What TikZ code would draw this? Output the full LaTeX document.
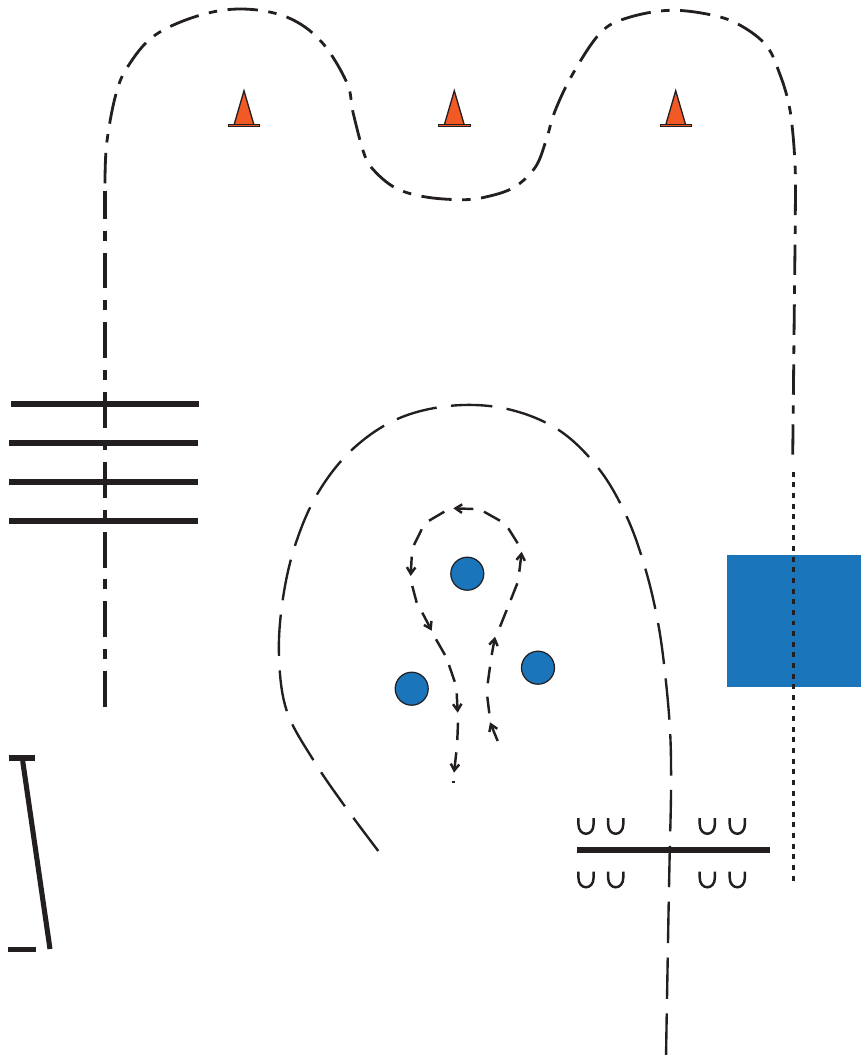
\documentclass[tikz,border=0pt]{standalone}
\usepackage{xcolor}
\usetikzlibrary{arrows.meta}
\definecolor{padblue}{RGB}{27,117,187}
\definecolor{conered}{RGB}{241,90,36}
\definecolor{inkblack}{RGB}{35,31,32}
\begin{document}
\begin{tikzpicture}[x=0.02cm,y=-0.02cm,
    trackleft/.style={draw=inkblack,line width=1.8pt,dash pattern=on 20.4pt off 6.8pt on 5.7pt off 6.8pt},
    track/.style={draw=inkblack,line width=1.6pt,dash pattern=on 17.3pt off 6pt on 4.8pt off 6pt},
    trackdots/.style={draw=inkblack,line width=1.8pt,dash pattern=on 2.8pt off 3.25pt},
    route/.style={draw=inkblack,line width=1.35pt,dash pattern=on 23.6pt off 8.2pt},
    loopline/.style={draw=inkblack,line width=1.4pt},
    flowtip/.style={loopline,-{Straight Barb[length=1.3mm,width=1.7mm]}},
    thickbar/.style={draw=inkblack,line width=3.2pt},
    cupline/.style={draw=inkblack,line width=1.4pt},
    post/.style={circle,draw=inkblack,line width=0.7pt,fill=padblue,minimum size=0.66cm,inner sep=0pt}]
    \useasboundingbox (0,0) rectangle (861,1061);
    % Pad
    \fill[padblue] (727,555) rectangle (861,687);
    % Outer track
    \draw[trackleft] (105,707) -- (105,190.7);
    \draw[track] plot[smooth,tension=0.6] coordinates {(105,183.3) (106.7,143.3) (115.7,95) (127.7,66.7) (154.3,35.7) (199,15.5) (243,9) (287.3,17.3) (321,41.3) (346.7,82.3) (353,112.3) (363.5,152) (372.7,169) (395,187.7) (424,196.7) (460,199.7) (484.3,197.3) (513.3,187.7) (535,167.7) (546,140.7) (555,111) (572.7,74) (600,33.3) (626,18.3) (670,10.3) (715,15.7) (742.7,26.7) (766.7,46) (779.3,72.7) (788.3,101.7) (792.7,131.7) (795.3,172) (795.3,215) (794.4,300) (792.7,456.7)};
    \draw[trackdots] (793.5,471.7) -- (793.5,881);
    % Inner route
    \draw[route] plot[smooth,tension=0.6] coordinates {(378.3,851) (344.7,806) (313.3,760) (286.7,710.7) (279,655.7) (282.7,600) (295,545.7) (317.3,494) (351.7,450) (397.3,419) (451.7,405.7) (507.3,409) (558.7,430) (599,469) (627,517.3) (645.7,570) (658.3,624.3) (665.7,679.3) (670.3,735.7) (671,791.7) (669.7,853) (668.7,903.3) (667.7,959.3) (666.7,1015.7) (666,1057.7)};
    % Loop
    \foreach \a/\b/\c/\d in {489.3/713.3/487.3/696.7,487.7/683.3/490/666.7,500/626.7/506.7/610,510.7/600/517.3/583.3,517.7/543.3/508.3/528.3,500/520.7/484/511.7,444.3/511.7/429/520.7,421.7/529.3/414/545,412.3/586/416.7/602.7,436/639.3/445/655,449/665/454.7/681.7,458/722.7/457.3/740,453.3/780.7/453.3/782.7}{
      \draw[loopline] (\a,\b) -- (\c,\d);
    }
    \foreach \a/\b/\c/\d in {497.7/741/490/722.3,491.7/655/495/636.7,519.3/571.7/521.7/551.7,473.3/509/453.3/508.3,411.7/556.7/410.7/576,422.3/612.7/431.7/630.7,456.7/693.3/457.7/712.7,456.3/752.3/454/772.7}{
      \draw[flowtip] (\a,\b) -- (\c,\d);
    }
    % Posts
    \node[post] (post1) at (467.3,573.7) {};
    \node[post] (post2) at (411.7,688.7) {};
    \node[post] (post3) at (538,667.7) {};
    % Cones
    \foreach \x in {244,454.3,675.7}{
      \filldraw[draw=inkblack,fill=conered,line width=0.75pt,shift={(\x,0)}] (0,90.7) -- (-10,125) -- (10,125) -- cycle;
      \filldraw[draw=inkblack,fill=conered,line width=0.5pt,shift={(\x,0)}] (-15.7,124.2) rectangle (15.7,126.8);
    }
    % Bars
    \draw[thickbar] (11,404.3) -- (199,404.3);
    \draw[thickbar] (9,443.3) -- (198,443.3);
    \draw[thickbar] (9,482.3) -- (198,482.3);
    \draw[thickbar] (9,521) -- (198,521);
    \draw[thickbar,line width=2.9pt] (22.7,761) -- (50,949);
    \draw[thickbar] (9.3,758.3) -- (35,758.3);
    \draw[thickbar] (8.3,949.3) -- (35.7,949.3);
    \draw[thickbar] (577,850) -- (770,850);
    % Cups
    \foreach \y in {818,871.5}{
      \foreach \x in {586,615.7,707.3,737.3}{
        \draw[cupline,shift={(\x,\y)}] (-7.6,0) -- (-7.6,6) .. controls (-7.6,19) and (7.6,19) .. (7.6,6) -- (7.6,0);
      }
    }
\end{tikzpicture}
\end{document}
